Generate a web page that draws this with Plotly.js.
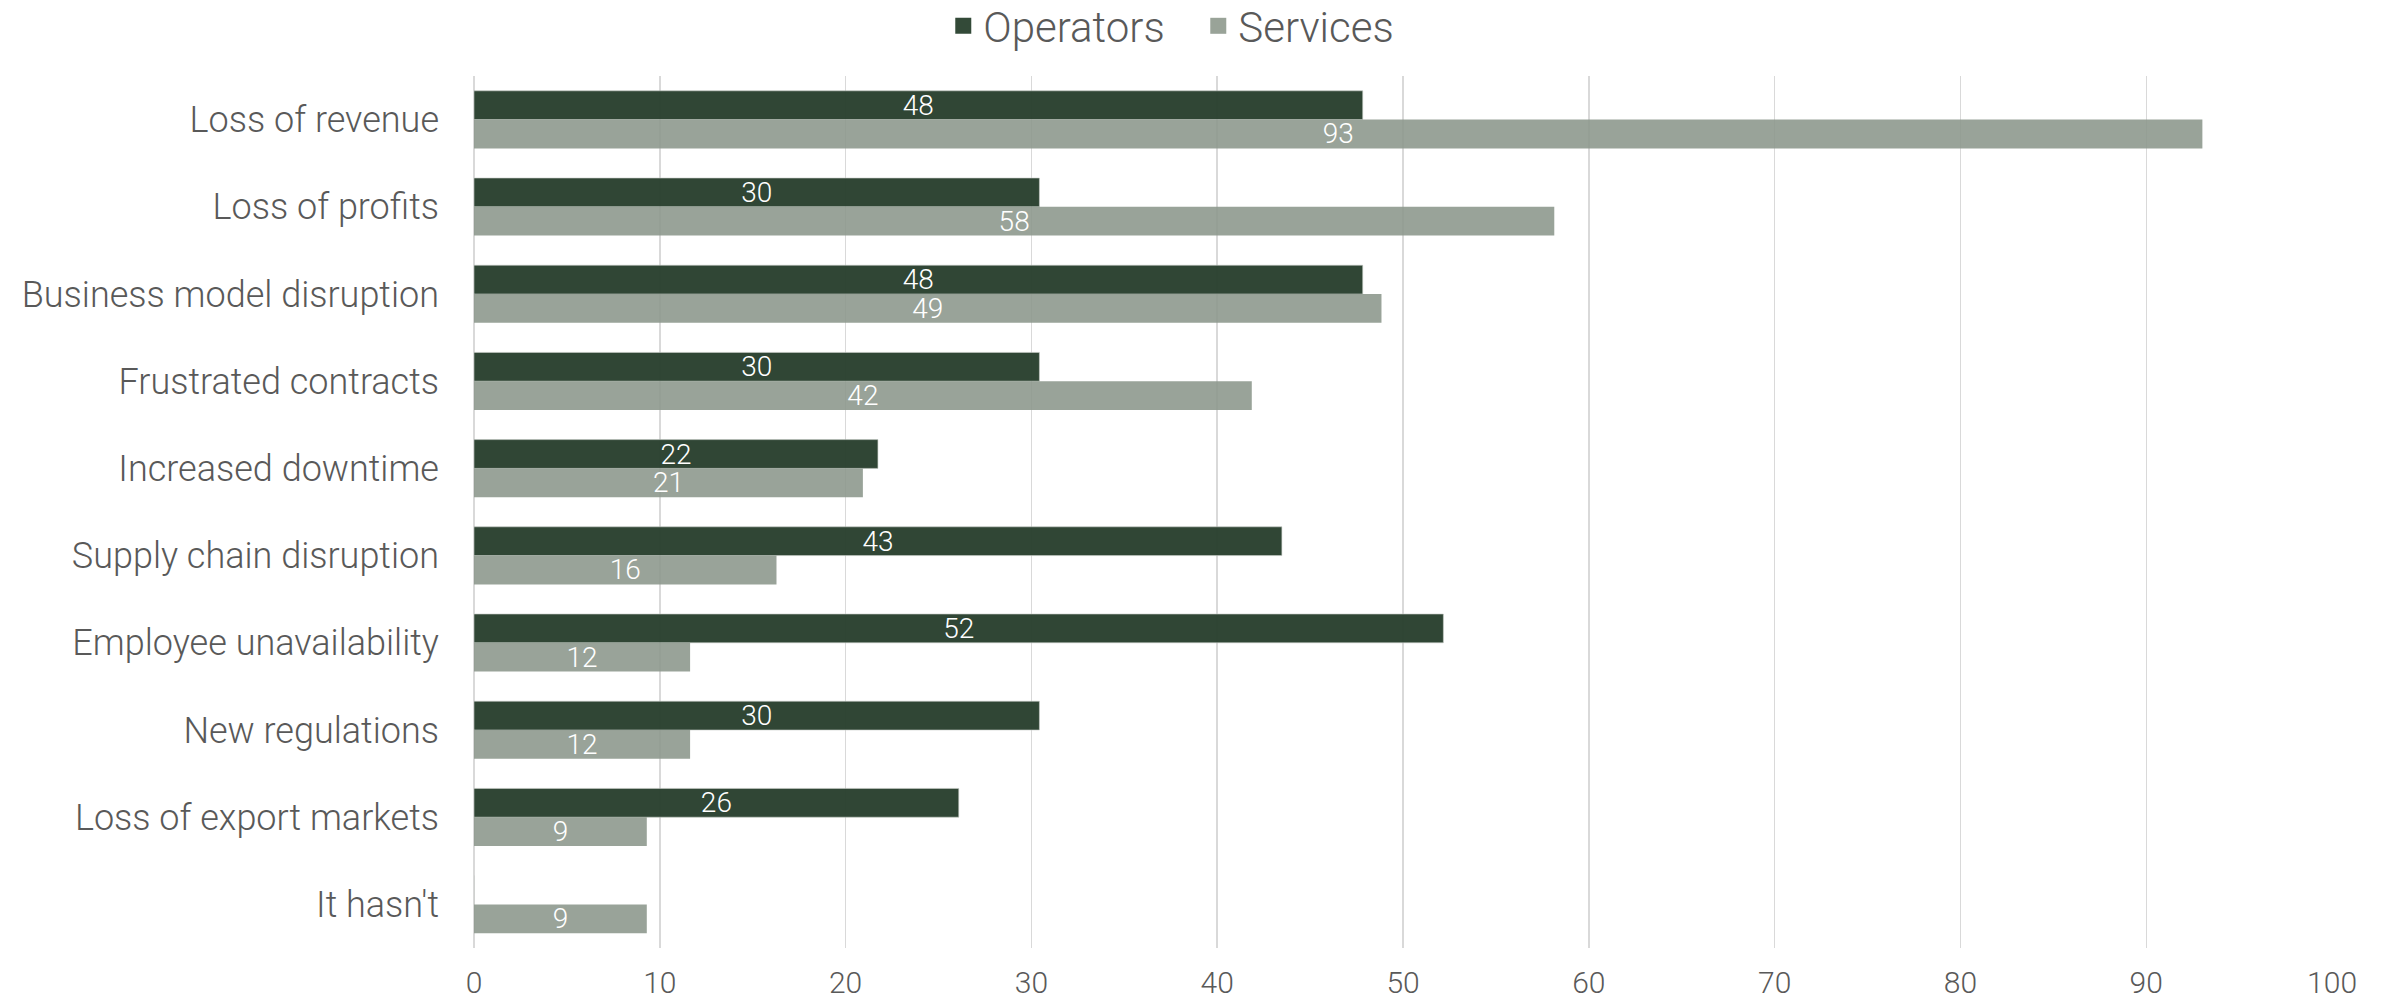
<!DOCTYPE html>
<html>
<head>
<meta charset="utf-8">
<script src="https://cdn.plot.ly/plotly-3.0.1.min.js"></script>
<style>html,body{margin:0;padding:0;background:#fff;}#chart{width:2382px;height:1000px;}</style>
</head>
<body>
<div id="chart"></div>
<script>
const categories = ["Loss of revenue","Loss of profits","Business model disruption","Frustrated contracts","Increased downtime","Supply chain disruption","Employee unavailability","New regulations","Loss of export markets","It hasn't"];
const operators = [47.83, 30.43, 47.83, 30.43, 21.74, 43.48, 52.17, 30.43, 26.09, 0];
const services = [93.02, 58.14, 48.84, 41.86, 20.93, 16.28, 11.63, 11.63, 9.30, 9.30];
const xTicks = [0,10,20,30,40,50,60,70,80,90,100];
const seriesNames = ["Operators", "Services"];
const seriesColors = ["rgba(40,62,45,0.96)", "rgba(139,150,139,0.88)"];

const FONT = "Roboto, 'Liberation Sans', sans-serif";
const lbl = v => v > 0 ? String(Math.round(v)) : "";

const common = {
  type: "bar", orientation: "h", y: categories,
  textposition: "inside", insidetextanchor: "middle", constraintext: "none", textangle: 0,
  textfont: {family: FONT, size: 28, color: "#ffffff", weight: 300},
  hoverinfo: "skip", cliponaxis: false, showlegend: false
};

const data = [
  Object.assign({}, common, {name: seriesNames[0], x: operators, text: operators.map(lbl),
    marker: {color: seriesColors[0], line: {color: "rgba(200,205,200,0.6)", width: 1}}}),
  Object.assign({}, common, {name: seriesNames[1], x: services, text: services.map(lbl),
    marker: {color: seriesColors[1], line: {width: 0}}}),
  // legend entries with larger square symbols
  {type: "scatter", mode: "markers", x: [null], y: [null], name: seriesNames[0], showlegend: true, hoverinfo: "skip",
    marker: {symbol: "square", size: 18, color: "#334a38"}},
  {type: "scatter", mode: "markers", x: [null], y: [null], name: seriesNames[1], showlegend: true, hoverinfo: "skip",
    marker: {symbol: "square", size: 18, color: "#99a398"}}
];

const layout = {
  width: 2382, height: 1000,
  margin: {l: 474, r: 49, t: 76, b: 52, autoexpand: false},
  paper_bgcolor: "#ffffff", plot_bgcolor: "#ffffff",
  font: {family: FONT, color: "#595959", weight: 300},
  barmode: "group", bargap: 0.34, bargroupgap: 0,
  showlegend: true,
  legend: {orientation: "h", xref: "container", yref: "container", x: 0.396, xanchor: "left", y: 0.974, yanchor: "middle",
    font: {family: FONT, size: 42, color: "#595959", weight: 300}, itemsizing: "trace", traceorder: "normal",
    itemwidth: 30, entrywidth: 210, entrywidthmode: "pixels"},
  xaxis: {range: [0, 100.05], tickvals: xTicks, ticktext: xTicks.map(String), showgrid: true, gridcolor: "#d9d9d9", gridwidth: 1.5,
    zeroline: true, zerolinecolor: "#d9d9d9", zerolinewidth: 2, showline: false, ticks: "",
    tickfont: {family: FONT, size: 30, color: "#595959", weight: 300}, ticklabelstandoff: 14, fixedrange: true, automargin: false},
  yaxis: {type: "category", autorange: "reversed", showgrid: false, zeroline: false, showline: false, ticks: "",
    tickfont: {family: FONT, size: 36, color: "#595959", weight: 300}, ticklabelstandoff: 34, fixedrange: true, automargin: false}
};

Plotly.newPlot("chart", data, layout, {displayModeBar: false, staticPlot: true});
</script>
</body>
</html>
